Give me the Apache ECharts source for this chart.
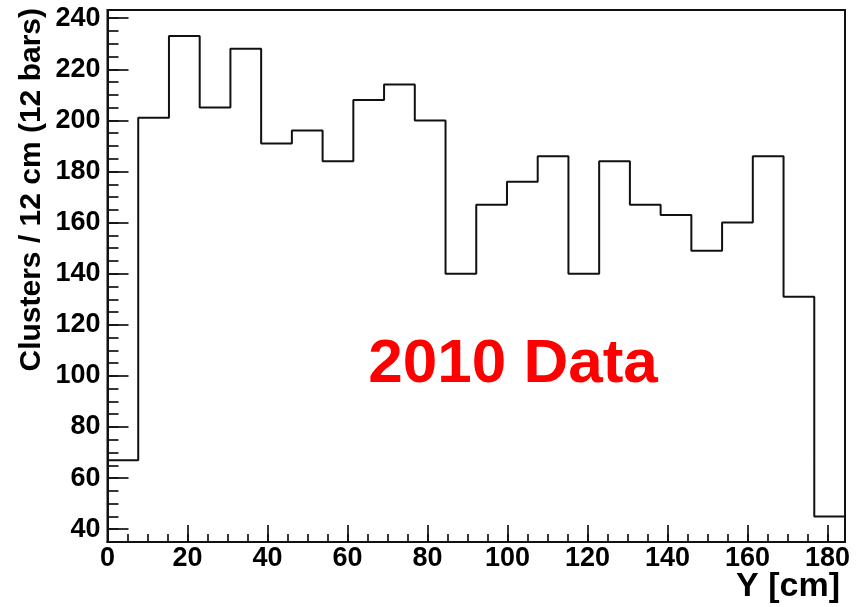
<!DOCTYPE html>
<html>
<head>
<meta charset="utf-8">
<script src="https://cdn.jsdelivr.net/npm/echarts@6/dist/echarts.min.js"></script>
<style>
html,body{margin:0;padding:0;background:#fff;}
#chart{width:862px;height:607px;}
</style>
</head>
<body>
<div id="chart"></div>
<script>
// Histogram range (cm)
const xRange = [0, 184.4];
const yRange = [35, 243.2];
// Bin contents, 24 bins across xRange
const binValues = [67, 201, 233, 205, 228, 191, 196, 184, 208, 214, 200, 140,
                   167, 176, 186, 140, 184, 167, 163, 149, 160, 186, 131, 45];
const xTitle = 'Y [cm]';
const yTitle = 'Clusters / 12 cm (12 bars)';
const annotation = '2010 Data';

const binWidth = (xRange[1] - xRange[0]) / binValues.length;
const stepData = binValues.map((v, i) => [xRange[0] + i * binWidth, v]);
stepData.push([xRange[1], binValues[binValues.length - 1]]);

const FONT = '"Liberation Sans", Arial, sans-serif';
const chart = echarts.init(document.getElementById('chart'), null, {renderer: 'canvas'});

const labelStyle = {color: '#000', fontFamily: FONT, fontWeight: 'bold', fontSize: 27};

chart.setOption({
  animation: false,
  backgroundColor: '#fff',
  grid: {left: 107.5, top: 10, right: 17, bottom: 65, show: true,
         borderColor: '#111', borderWidth: 2, backgroundColor: 'transparent'},
  xAxis: [
    {type: 'value', min: xRange[0], max: xRange[1], interval: 20,
     axisLine: {show: true, lineStyle: {color: '#111', width: 2}},
     axisTick: {show: true, inside: true, length: 17, lineStyle: {color: '#111', width: 1.7}},
     axisLabel: Object.assign({margin: 3, showMaxLabel: false}, labelStyle),
     splitLine: {show: false}},
    {type: 'value', min: xRange[0], max: xRange[1], interval: 5, position: 'bottom',
     axisLine: {show: false},
     axisTick: {show: true, inside: true, length: 8, lineStyle: {color: '#111', width: 1.7}},
     axisLabel: {show: false}, splitLine: {show: false}}
  ],
  yAxis: [
    {type: 'value', min: yRange[0], max: yRange[1], splitNumber: 10,
     axisLine: {show: true, lineStyle: {color: '#111', width: 2}},
     axisTick: {show: true, inside: true, length: 21, lineStyle: {color: '#111', width: 1.7}},
     axisLabel: Object.assign({margin: 7, showMinLabel: false, showMaxLabel: false}, labelStyle),
     splitLine: {show: false}},
    {type: 'value', min: yRange[0], max: yRange[1], interval: 5, position: 'left',
     axisLine: {show: false},
     axisTick: {show: true, inside: true, length: 11, lineStyle: {color: '#111', width: 1.7}},
     axisLabel: {show: false}, splitLine: {show: false}}
  ],
  series: [{
    type: 'line', xAxisIndex: 0, yAxisIndex: 0, step: 'end',
    data: stepData, symbol: 'none', silent: true,
    lineStyle: {color: '#111', width: 2}
  }],
  graphic: [
    {type: 'text', x: 513, y: 365,
     style: {text: annotation, fill: '#ff0000', font: 'bold 62px ' + FONT,
             textAlign: 'center', textVerticalAlign: 'middle'}},
    {type: 'text', x: 840, y: 587,
     style: {text: xTitle, fill: '#000', font: 'bold 34px ' + FONT,
             textAlign: 'right', textVerticalAlign: 'middle'}},
    {type: 'text', x: 31.5, y: 8, rotation: Math.PI / 2,
     style: {text: yTitle, fill: '#000', font: 'bold 30px ' + FONT,
             textAlign: 'right', textVerticalAlign: 'middle'}}
  ]
});
</script>
</body>
</html>
